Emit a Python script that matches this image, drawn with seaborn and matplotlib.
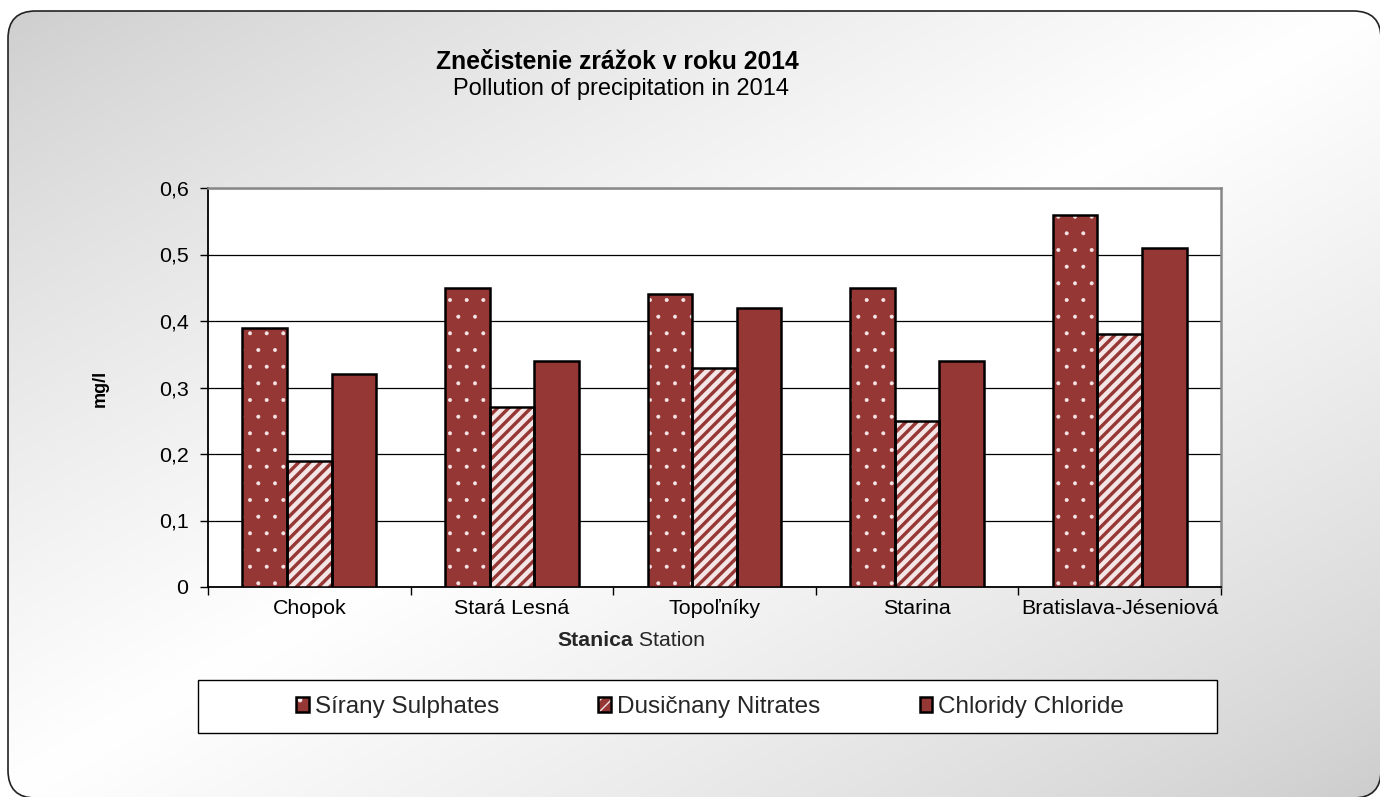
import numpy as np
import pandas as pd
import seaborn as sns
import matplotlib
matplotlib.use("Agg")
import matplotlib.pyplot as plt
from matplotlib.patches import FancyBboxPatch, Rectangle, Patch
from matplotlib.ticker import FuncFormatter, FixedLocator
from matplotlib.legend_handler import HandlerTuple

stations = ["Chopok", "Stará Lesná", "Topoľníky", "Starina", "Bratislava-Jéseniová"]
series = ["Sírany Sulphates", "Dusičnany Nitrates", "Chloridy Chloride"]
sulphates = [0.39, 0.45, 0.44, 0.45, 0.56]
nitrates = [0.19, 0.27, 0.33, 0.25, 0.38]
chlorides = [0.32, 0.34, 0.42, 0.34, 0.51]
yticks = [0, 0.1, 0.2, 0.3, 0.4, 0.5, 0.6]

BAR = "#953735"
hatches = [".", "///", ""]

sns.set_theme(style="white")
plt.rcParams["font.family"] = ["Liberation Sans", "DejaVu Sans"]

df = pd.DataFrame({
    "station": stations * 3,
    "series": [series[0]] * 5 + [series[1]] * 5 + [series[2]] * 5,
    "value": sulphates + nitrates + chlorides,
})

W, H = 1380, 797
fig = plt.figure(figsize=(W / 100, H / 100), dpi=100)
fig.patch.set_facecolor("white")

# background gradient in rounded box
bg = fig.add_axes([0, 0, 1, 1], zorder=-10)
bg.set_axis_off()
xx, yy = np.meshgrid(np.linspace(0, 1, 300), np.linspace(0, 1, 200))
t = (xx + yy) / 2.0
g = 0.80 + 0.20 * (1 - np.abs(t - 0.5) * 2) ** 0.8
img = np.dstack([g, g, g])
im = bg.imshow(img, extent=[0, 1, 0, 1], origin="upper", aspect="auto", interpolation="bilinear")
bg.set_xlim(0, 1)
bg.set_ylim(0, 1)
box = FancyBboxPatch((8 / W, -1 / H), (W - 7) / W, (H - 10) / H,
                     boxstyle="round,pad=0,rounding_size=0.02", transform=bg.transAxes,
                     facecolor="none", edgecolor="#222222", linewidth=1.2,
                     mutation_aspect=W / H)
bg.add_patch(box)
im.set_clip_path(box)

ax = fig.add_axes([208 / W, 1 - 587 / H, (1221 - 208) / W, (587 - 188) / H])
ax.set_facecolor("white")
sns.barplot(data=df, x="station", y="value", hue="series", palette=[BAR] * 3,
            width=0.66, edgecolor="black", linewidth=1.8, saturation=1,
            legend=False, ax=ax, zorder=3)

for cont, h in zip(ax.containers, hatches):
    if not h:
        continue
    for p in cont:
        x0, y0 = p.get_xy()
        w, hh = p.get_width(), p.get_height()
        p.set_edgecolor("#f4e6e6")
        p.set_linewidth(0)
        p.set_hatch(h)
        if hasattr(p, "set_hatch_linewidth"):
            p.set_hatch_linewidth(3.2 if "/" in h else 0.4)
        ax.add_patch(Rectangle((x0, y0), w, hh, fill=False, edgecolor="black",
                               linewidth=1.8, zorder=4))

ax.set_ylim(0, 0.6)
ax.set_xlim(-0.5, 4.5)
ax.yaxis.set_major_locator(FixedLocator(yticks))
ax.yaxis.set_major_formatter(FuncFormatter(lambda v, p: "0" if abs(v) < 1e-9 else f"{v:.1f}".replace(".", ",")))
ax.grid(axis="y", color="black", linewidth=0.9, zorder=0)
ax.set_axisbelow(True)

ax.set_xticks(np.arange(-0.5, 5.0, 1.0))
ax.set_xticklabels([])
ax.set_xticks(np.arange(5), minor=True)
ax.set_xticklabels(stations, minor=True)
ax.tick_params(axis="x", which="major", length=6, width=1, color="black", direction="out", bottom=True)
ax.tick_params(axis="x", which="minor", length=0, labelsize=15.4, pad=9, colors="black")
ax.tick_params(axis="y", length=6, width=1, direction="out", left=True, labelsize=15.4, pad=8, colors="black")
ax.set_xlabel("")
ax.set_ylabel("")
for s in ["left", "bottom"]:
    ax.spines[s].set_color("black")
    ax.spines[s].set_linewidth(1.3)
for s in ["top", "right"]:
    ax.spines[s].set_color("#888888")
    ax.spines[s].set_linewidth(1.8)

# titles
fig.text(617 / W, 1 - 62 / H, "Znečistenie zrážok v roku 2014", ha="center", va="center",
         fontsize=17.8, fontweight="bold", color="black")
fig.text(621 / W, 1 - 89 / H, "Pollution of precipitation in 2014", ha="center", va="center",
         fontsize=17, color="black")
fig.text(100 / W, 1 - 388 / H, "mg/l", rotation=90, ha="center", va="center",
         fontsize=13, fontweight="bold", color="black")

# x label with mixed weights
fig.canvas.draw()
r = fig.canvas.get_renderer()
t1 = fig.text(0, 1 - 641 / H, "Stanica", fontsize=15.3, fontweight="bold", va="center")
t2 = fig.text(0, 1 - 641 / H, " Station", fontsize=15.3, va="center")
w1 = t1.get_window_extent(r).width
w2 = t2.get_window_extent(r).width
x_start = 631 - (w1 + w2) / 2
t1.set_x(x_start / W)
t2.set_x((x_start + w1) / W)

# legend box
fig.add_artist(Rectangle((198 / W, 1 - 733 / H), (1217 - 198) / W, 53 / H,
                         transform=fig.transFigure, facecolor="white",
                         edgecolor="black", linewidth=1.0, zorder=5))
handles = []
for h in hatches:
    if h:
        inner = Patch(facecolor=BAR, edgecolor="#f4e6e6", hatch=h, linewidth=0)
        outer = Patch(facecolor="none", edgecolor="black", linewidth=1.8)
        handles.append((inner, outer))
    else:
        handles.append(Patch(facecolor=BAR, edgecolor="black", linewidth=1.8))
leg = fig.legend(handles, series, loc="center",
                 bbox_to_anchor=(710 / W, 1 - 707 / H), ncol=3, frameon=False,
                 fontsize=17.5, handlelength=0.53, handleheight=0.53, handletextpad=0.22,
                 columnspacing=4.1, handler_map={tuple: HandlerTuple(ndivide=1, pad=0)})
leg.set_zorder(6)

fig.savefig("out.png", dpi=100, facecolor=fig.get_facecolor())
